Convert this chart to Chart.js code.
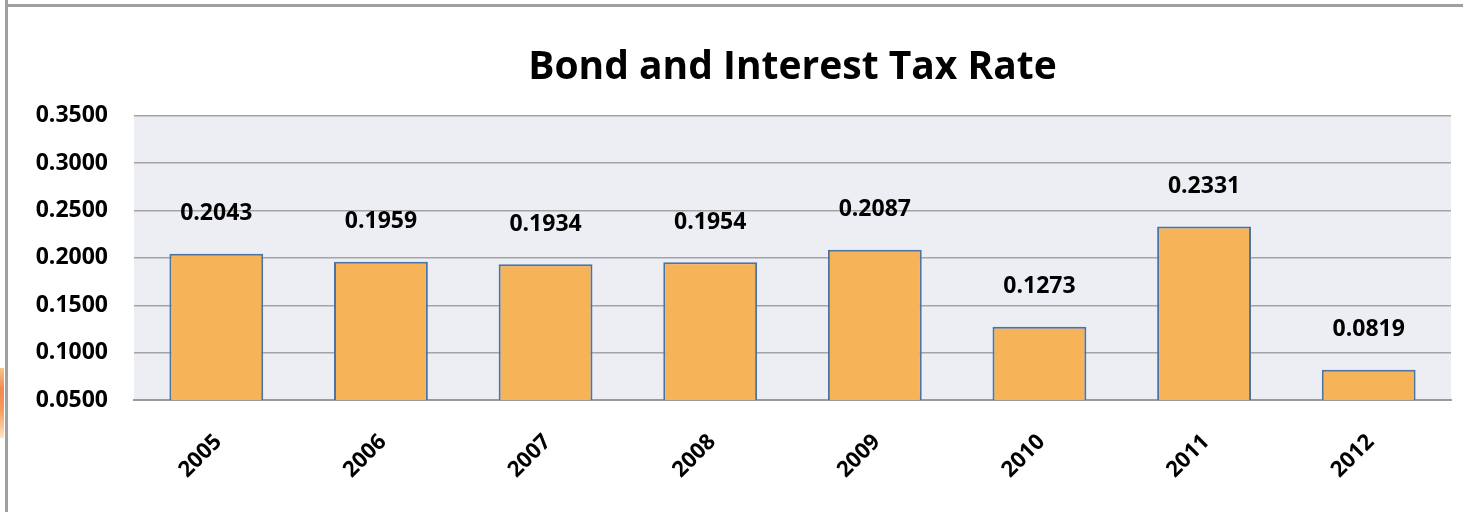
<!DOCTYPE html>
<html>
<head>
<meta charset="utf-8">
<script src="https://cdn.jsdelivr.net/npm/chart.js@4/dist/chart.umd.min.js"></script>
<style>
    html, body { margin: 0; padding: 0; background: #fff; }
    #wrap { position: relative; width: 1463px; height: 512px; overflow: hidden; }
    #frame { position: absolute; left: 5px; top: 4px; width: 1470px; height: 520px;
             border-top: 3px solid #a0a0a0; border-left: 3px solid #a0a0a0; }
    #stub { position: absolute; left: 5px; top: 0; width: 3px; height: 5px; background: #a0a0a0; }
    #tab { position: absolute; left: 0; top: 368px; width: 4px; height: 70px;
           background: linear-gradient(#f7c48a, #f4894f 30%, #f79a5c 60%, #fde7c0); }
    canvas { position: absolute; left: 0; top: 0; }
</style>
</head>
<body>
<div id="wrap">
    <div id="frame"></div>
    <div id="stub"></div>
    <div id="tab"></div>
    <canvas id="chart" width="1463" height="512"></canvas>
</div>
<script>
    const years = ['2005', '2006', '2007', '2008', '2009', '2010', '2011', '2012'];
    const taxRate = [0.2043, 0.1959, 0.1934, 0.1954, 0.2087, 0.1273, 0.2331, 0.0819];
    const chartTitle = 'Bond and Interest Tax Rate';

    const FONT = '"Open Sans", Carlito, Calibri, sans-serif';

    // plot area background
    const plotBg = {
        id: 'plotBg',
        beforeDraw(chart) {
            const { ctx, chartArea: a } = chart;
            ctx.save();
            ctx.fillStyle = '#eceef4';
            ctx.fillRect(a.left, a.top, a.right - a.left, a.bottom - a.top);
            ctx.restore();
        },
    };

    // value labels above bars
    const valueLabels = {
        id: 'valueLabels',
        afterDatasetsDraw(chart) {
            const { ctx } = chart;
            const meta = chart.getDatasetMeta(0);
            ctx.save();
            ctx.font = 'bold 23px ' + FONT;
            ctx.fillStyle = '#000';
            ctx.textAlign = 'center';
            ctx.textBaseline = 'middle';
            meta.data.forEach((bar, i) => {
                ctx.fillText(taxRate[i].toFixed(4), bar.x, bar.y - 40);
            });
            ctx.restore();
        },
    };

    new Chart(document.getElementById('chart'), {
        type: 'bar',
        data: {
            labels: years,
            datasets: [{
                data: taxRate,
                backgroundColor: '#f6b358',
                borderColor: '#4b74a5',
                borderWidth: 2,
                barPercentage: 0.57,
                categoryPercentage: 1,
            }],
        },
        options: {
            responsive: false,
            animation: false,
            layout: { padding: { top: 13, right: 12, left: 0, bottom: 0 } },
            plugins: {
                legend: { display: false },
                tooltip: { enabled: false },
                title: {
                    display: true,
                    fullSize: false,
                    text: chartTitle,
                    color: '#000',
                    font: { family: FONT, size: 39, weight: 'bold', lineHeight: 1.2 },
                    padding: { top: 31, bottom: 25 },
                },
            },
            scales: {
                x: {
                    grid: { display: false },
                    border: { color: '#9a9a9a', width: 2 },
                    ticks: {
                        color: '#000',
                        font: { family: FONT, size: 22, weight: 'bold' },
                        minRotation: 45,
                        maxRotation: 45,
                        labelOffset: 2,
                        padding: 21,
                    },
                    afterFit(scale) { scale.height = 112; },
                },
                y: {
                    min: 0.05,
                    max: 0.35,
                    grid: { color: '#a4a4a4', lineWidth: 1.5, drawTicks: false },
                    border: { display: false },
                    ticks: {
                        stepSize: 0.05,
                        color: '#000',
                        padding: 26,
                        font: { family: FONT, size: 23, weight: 'bold' },
                        callback: v => v.toFixed(4),
                    },
                    afterFit(scale) { scale.width = 134; },
                },
            },
        },
        plugins: [plotBg, valueLabels],
    });
</script>
</body>
</html>
